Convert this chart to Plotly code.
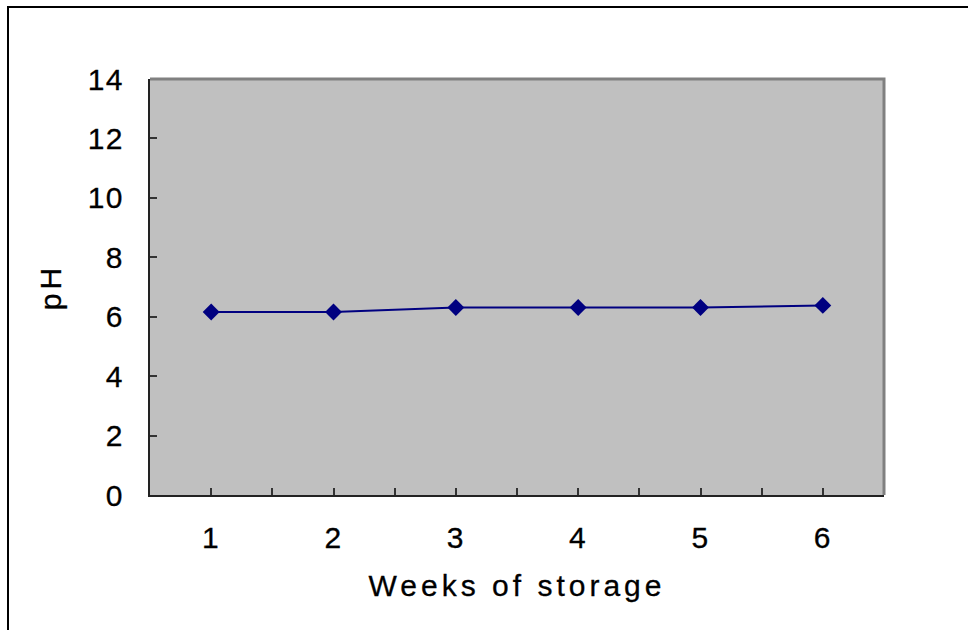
import plotly.graph_objects as go

weeks = [1, 2, 3, 4, 5, 6]
ph = [6.16, 6.16, 6.31, 6.31, 6.31, 6.38]
y_ticks = [0, 2, 4, 6, 8, 10, 12, 14]
x_tickvals = [0.5, 1, 1.5, 2, 2.5, 3, 3.5, 4, 4.5, 5, 5.5, 6, 6.5]
x_ticktext = ["" if v != int(v) else str(int(v)) for v in x_tickvals]

W, H = 968, 630
ML, MR, MT, MB = 150, 84, 79, 135
pw, ph_px = W - ML - MR, H - MT - MB

def px_x(p):
    return (p - ML) / pw

def px_y(p):
    return (H - MB - p) / ph_px

font = "Liberation Sans, Arial, sans-serif"

fig = go.Figure()
fig.add_trace(go.Scatter(
    x=weeks, y=ph, mode="lines+markers",
    line=dict(color="#000080", width=2),
    marker=dict(symbol="diamond", size=13, color="#000080"),
    showlegend=False,
))

fig.update_layout(
    width=W, height=H,
    margin=dict(l=ML, r=MR, t=MT, b=MB),
    paper_bgcolor="white",
    plot_bgcolor="#C0C0C0",
    font=dict(family=font, size=30, color="black"),
    xaxis=dict(
        range=[0.5, 6.5], tickmode="array", tickvals=x_tickvals, ticktext=x_ticktext,
        ticks="inside", ticklen=7, tickwidth=1.5, tickcolor="#333333",
        showline=True, linecolor="#222222", linewidth=2, showgrid=False, zeroline=False,
        ticklabelstandoff=15,
        title=dict(text="Weeks of storage", standoff=22, font=dict(size=30)),
    ),
    yaxis=dict(
        range=[0, 14], tickmode="array", tickvals=y_ticks,
        ticks="inside", ticklen=7, tickwidth=1.5, tickcolor="#333333",
        showline=True, linecolor="#222222", linewidth=2, showgrid=False, zeroline=False,
        ticklabelstandoff=18,
        title=dict(text="pH", standoff=20, font=dict(size=30)),
    ),
    shapes=[
        dict(type="path", xref="paper", yref="paper",
             path=f"M {px_x(ML)},{px_y(MT)} L {px_x(W-MR)},{px_y(MT)} L {px_x(W-MR)},{px_y(H-MB)}",
             line=dict(color="#808080", width=3), layer="above"),
        dict(type="path", xref="paper", yref="paper",
             path=f"M {px_x(8)},{px_y(H+5)} L {px_x(8)},{px_y(7)} L {px_x(W+5)},{px_y(7)}",
             line=dict(color="black", width=2), layer="above"),
    ],
)

post = """
document.querySelectorAll('.g-xtitle text, .g-ytitle text').forEach(function(e){e.setAttribute('letter-spacing','4px');e.setAttribute('stroke','black');e.setAttribute('stroke-width','0.3');});
document.querySelectorAll('.xtick text, .ytick text').forEach(function(e){e.setAttribute('letter-spacing','1.5px');e.setAttribute('stroke','black');e.setAttribute('stroke-width','0.3');});
"""
fig.write_html("out.html", post_script=post)
